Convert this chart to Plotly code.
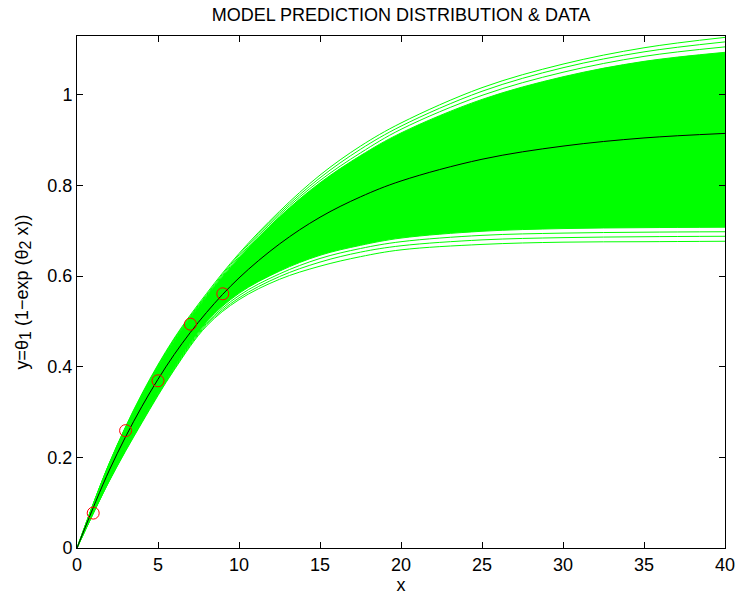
import plotly.graph_objects as go

# ---- data ----
x_grid = [0, 2, 4, 6, 8, 10, 12.5, 15, 17.5, 20, 25, 30, 35, 40]

# posterior-mean prediction curve (black)
mean_curve = [0, 0.172, 0.312, 0.427, 0.520, 0.596, 0.671, 0.730, 0.775, 0.810, 0.858, 0.887, 0.905, 0.915]

# dense part of the prediction band (solid green)
band_upper = [0, 0.186, 0.336, 0.457, 0.555, 0.640, 0.731, 0.806, 0.866, 0.916, 0.990, 1.040, 1.074, 1.094]
band_lower = [0, 0.151, 0.281, 0.399, 0.499, 0.562, 0.611, 0.646, 0.668, 0.684, 0.699, 0.705, 0.707, 0.708]

# individual outer prediction curves above the dense band
upper_curve_a = [0, 0.188, 0.340, 0.463, 0.562, 0.650, 0.743, 0.823, 0.887, 0.938, 1.016, 1.068, 1.104, 1.127]
upper_curve_b = [0, 0.187, 0.338, 0.461, 0.559, 0.647, 0.739, 0.817, 0.880, 0.931, 1.008, 1.060, 1.095, 1.117]
upper_curve_c = [0, 0.187, 0.337, 0.459, 0.557, 0.643, 0.735, 0.811, 0.872, 0.924, 0.999, 1.050, 1.085, 1.106]

# individual outer prediction curves below the dense band
lower_curve_e = [0, 0.148, 0.276, 0.393, 0.490, 0.548, 0.593, 0.622, 0.643, 0.658, 0.670, 0.675, 0.676, 0.677]
lower_curve_f = [0, 0.149, 0.278, 0.395, 0.493, 0.552, 0.599, 0.631, 0.653, 0.667, 0.680, 0.685, 0.687, 0.688]
lower_curve_g = [0, 0.150, 0.279, 0.397, 0.496, 0.557, 0.605, 0.639, 0.661, 0.676, 0.690, 0.695, 0.697, 0.698]

# observed data (red circles)
data_x = [1, 3, 5, 7, 9]
data_y = [0.077, 0.259, 0.369, 0.494, 0.561]

x_ticks = [0, 5, 10, 15, 20, 25, 30, 35, 40]
y_ticks = [0, 0.2, 0.4, 0.6, 0.8, 1]
y_tick_labels = ["0", "0.2", "0.4", "0.6", "0.8", "1"]

GREEN = "#00FF00"
FONT = "Liberation Sans, Arial, Helvetica, sans-serif"

fig = go.Figure()

def green_line(y):
    fig.add_trace(go.Scatter(
        x=x_grid, y=y, mode="lines",
        line=dict(color=GREEN, width=1, shape="spline", smoothing=1.0),
        hoverinfo="skip", showlegend=False))

for c in (lower_curve_e, lower_curve_f, lower_curve_g):
    green_line(c)

fig.add_trace(go.Scatter(
    x=x_grid, y=band_lower, mode="lines",
    line=dict(color=GREEN, width=1, shape="spline", smoothing=1.0),
    hoverinfo="skip", showlegend=False))
fig.add_trace(go.Scatter(
    x=x_grid, y=band_upper, mode="lines", fill="tonexty", fillcolor=GREEN,
    line=dict(color=GREEN, width=1, shape="spline", smoothing=1.0),
    hoverinfo="skip", showlegend=False))

for c in (upper_curve_c, upper_curve_b, upper_curve_a):
    green_line(c)

fig.add_trace(go.Scatter(
    x=x_grid, y=mean_curve, mode="lines",
    line=dict(color="black", width=1, shape="spline", smoothing=1.0),
    showlegend=False))

fig.add_trace(go.Scatter(
    x=data_x, y=data_y, mode="markers",
    marker=dict(symbol="circle-open", size=12, color="red", line=dict(color="red", width=1)),
    showlegend=False))

axis_common = dict(
    showline=True, linecolor="black", linewidth=1, mirror="ticks",
    ticks="inside", ticklen=6, tickcolor="black", tickwidth=1,
    showgrid=False, zeroline=False, automargin=False,
    tickfont=dict(family=FONT, size=18, color="black"),
)

sub_style = "font-size:16px"
y_title = ("y=θ<sub><span style='%s'>1</span></sub> (1−exp (θ<sub><span style='%s'>2</span></sub> x))"
           % (sub_style, sub_style))

fig.update_layout(
    width=737, height=597,
    paper_bgcolor="white", plot_bgcolor="white",
    margin=dict(l=77, r=12, t=36, b=49),
    title=dict(text="MODEL PREDICTION DISTRIBUTION &amp; DATA",
               x=0.5, xref="paper", y=1 - 15 / 597, yref="container",
               xanchor="center", yanchor="middle",
               font=dict(family=FONT, size=18, color="black"),
               automargin=False),
    xaxis=dict(range=[0, 40], tickvals=x_ticks,
               title=dict(text="x", font=dict(family=FONT, size=18, color="black"), standoff=2),
               **axis_common),
    yaxis=dict(range=[0, 1.13], tickvals=y_ticks, ticktext=y_tick_labels,
               title=dict(text=y_title,
                          font=dict(family=FONT, size=18, color="black"), standoff=14),
               **axis_common),
)

fig.write_html("out.html",
               config={"displayModeBar": False},
               post_script="document.body.style.margin='0';document.body.style.overflow='hidden';")
